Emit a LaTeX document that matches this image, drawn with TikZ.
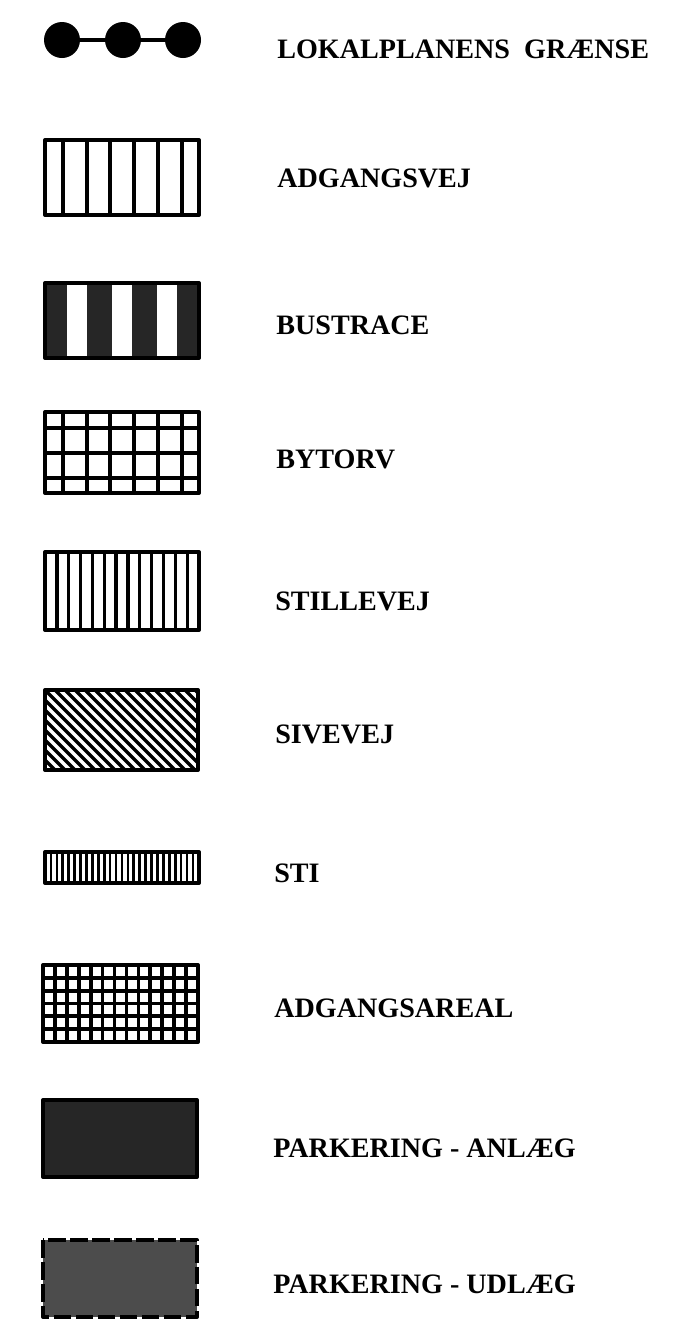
\documentclass[tikz,border=0pt]{standalone}
\usepackage{fontspec}
\setmainfont{Liberation Serif}

\begin{document}
\begin{tikzpicture}[x=0.02cm, y=-0.02cm,
  legendtext/.style={anchor=base west, inner sep=0pt, font=\bfseries\fontsize{16}{18}\selectfont},
  boxframe/.style={line width=2.3pt, line join=round},
  hatchline/.style={line width=1.9pt}]
  \useasboundingbox (0,0) rectangle (685,1322);

  \draw[line width=2.6pt] (62,40) -- (183,40);
  \foreach \x in {62, 123, 183} {
    \fill (\x,40) circle (18);
  }
  \node[legendtext] (graense) at (277,58) {LOKALPLANENS\ \ GRÆNSE};

  \foreach \x in {63, 87, 110, 134, 158, 182} {
    \draw[hatchline] (\x,140) -- (\x,215);
  }
  \draw[boxframe] (45,140) rectangle (199,215);
  \node[legendtext] (adgangsvej) at (277,187) {ADGANGSVEJ};

  \fill[black!85] (45,283) rectangle (199,358);
  \foreach \x in {67, 112, 157} {
    \fill[white] (\x,283) rectangle (\x+20,358);
  }
  \draw[boxframe] (45,283) rectangle (199,358);
  \node[legendtext] (bustrace) at (276,334) {BUSTRACE};

  \foreach \x in {63, 87, 110, 134, 158, 182} {
    \draw[hatchline] (\x,412) -- (\x,493);
  }
  \foreach \y in {428, 453, 478} {
    \draw[hatchline] (45,\y) -- (199,\y);
  }
  \draw[boxframe] (45,412) rectangle (199,493);
  \node[legendtext] (bytorv) at (276,468) {BYTORV};

  \foreach \i in {1,...,12} {
    \draw[hatchline] (45+11.85*\i,552) -- ++(0,78);
  }
  \draw[boxframe] (45,552) rectangle (199,630);
  \node[legendtext] (stillevej) at (275,610) {STILLEVEJ};

  \begin{scope}
    \clip (45,690) rectangle (198,770);
    \foreach \x in {-85, -75, ..., 200} {
      \draw[line width=2pt] (\x,690) -- ++(80,80);
    }
  \end{scope}
  \draw[boxframe] (45,690) rectangle (198,770);
  \node[legendtext] (sivevej) at (275,743) {SIVEVEJ};

  \foreach \i in {1,...,25} {
    \draw[line width=1.5pt] (45+5.92*\i,852) -- ++(0,31);
  }
  \draw[boxframe] (45,852) rectangle (199,883);
  \node[legendtext] (sti) at (274,882) {STI};

  \foreach \i in {1,...,12} {
    \draw[line width=2.1pt] (43+11.92*\i,965) -- ++(0,77);
  }
  \foreach \j in {1,...,5} {
    \draw[line width=2.1pt] (43,965+12.83*\j) -- ++(155,0);
  }
  \draw[boxframe] (43,965) rectangle (198,1042);
  \node[legendtext] (adgangsareal) at (274,1017) {ADGANGSAREAL};

  \draw[boxframe, fill=black!85] (43,1100) rectangle (197,1177);
  \node[legendtext] (anlaeg) at (273,1157) {PARKERING - ANLÆG};

  \fill[black!70] (43,1240) rectangle (197,1317);
  \draw[boxframe, dash pattern=on 10pt off 2.5pt] (43,1240) rectangle (197,1317);
  \node[legendtext] (udlaeg) at (273,1293) {PARKERING - UDLÆG};
\end{tikzpicture}
\end{document}
